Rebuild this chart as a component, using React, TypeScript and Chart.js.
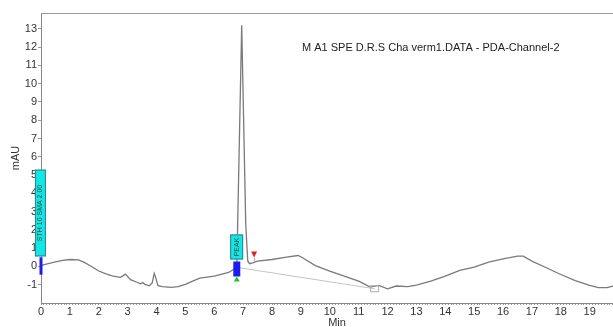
import React, { useEffect, useRef } from "react";
import { Chart, registerables } from "chart.js";

Chart.register(...registerables);

// Chromatogram trace (time in min, signal in mAU)
const times = [0, 0.25, 0.5, 0.75, 1.0, 1.3, 1.5, 1.75, 2.0, 2.25, 2.5, 2.75, 2.85, 2.92, 3.0, 3.1, 3.3, 3.45, 3.52, 3.6, 3.75, 3.85, 3.92, 3.97, 4.05, 4.2, 4.5, 4.75, 5.0, 5.25, 5.5, 6.0, 6.5, 6.78, 6.95, 7.09, 7.16, 7.22, 7.33, 7.5, 8.0, 8.5, 8.9, 9.0, 9.5, 10, 10.5, 11, 11.4, 11.7, 12.0, 12.3, 12.7, 13, 13.5, 14, 14.5, 15, 15.5, 16, 16.5, 16.7, 17, 17.5, 18, 18.5, 19, 19.3, 19.6, 20, 20.5];
const signal = [0.05, 0.15, 0.25, 0.33, 0.38, 0.36, 0.22, 0.0, -0.25, -0.4, -0.53, -0.6, -0.5, -0.42, -0.55, -0.72, -0.85, -0.95, -0.88, -0.98, -1.06, -0.9, -0.38, -0.6, -1.05, -1.1, -1.15, -1.1, -0.98, -0.8, -0.64, -0.53, -0.33, -0.05, 13.2, 2.3, 0.3, 0.15, 0.2, 0.29, 0.38, 0.51, 0.6, 0.53, 0.05, -0.25, -0.53, -0.8, -1.13, -1.04, -1.22, -1.07, -1.1, -1.02, -0.8, -0.53, -0.22, -0.04, 0.24, 0.42, 0.56, 0.56, 0.29, -0.07, -0.44, -0.77, -1.04, -1.16, -1.16, -1.0, -0.8];

// Integration baseline
const baselineTimes = [6.78, 11.55];
const baselineValues = [-0.05, -1.22];

// Event boxes: [tStart, tEnd, yLow, yHigh]
const eventBox1 = [-0.21, 0.17, 0.55, 5.3];
const eventBox1Text = "STH 10 SMA 2.00";
const eventBox2 = [6.55, 7.0, 0.38, 1.75];
const eventBox2Text = "PEAK";
// Peak markers
const startMarker1 = [0, -0.45, 0.5]; // t, yLow, yHigh
const startMarker2 = [6.78, -0.55, 0.27];
const greenMarker = [6.78, -0.82, -0.55];
const redMarker = [7.38, 0.49, 0.82, 0.27];
const baselineSquare = [11.55, -1.22];

const yTicks = [-1, 0, 1, 2, 3, 4, 5, 6, 7, 8, 9, 10, 11, 12, 13];
const titleText = "M A1 SPE D.R.S Cha verm1.DATA - PDA-Channel-2";

const annotations = {
  id: "annotations",
  afterDatasetsDraw(chart: any) {
    const { ctx, chartArea, scales } = chart;
    const x = scales.x, y = scales.y;
    ctx.save();
    // top frame line
    ctx.strokeStyle = "#9a9a9a";
    ctx.lineWidth = 1;
    ctx.beginPath();
    ctx.moveTo(chartArea.left, Math.round(chartArea.top) + 0.5);
    ctx.lineTo(chartArea.right, Math.round(chartArea.top) + 0.5);
    ctx.stroke();

    // baseline square
    const sx = x.getPixelForValue(baselineSquare[0]);
    const sy = y.getPixelForValue(baselineSquare[1]);
    ctx.strokeStyle = "#b0b0b0";
    ctx.strokeRect(sx - 4, sy - 3, 8, 6);

    const drawBox = (b: number[], text: string) => {
      const x0 = x.getPixelForValue(b[0]);
      const x1 = x.getPixelForValue(b[1]);
      const y0 = y.getPixelForValue(b[3]);
      const y1 = y.getPixelForValue(b[2]);
      ctx.fillStyle = "#10e8e8";
      ctx.fillRect(x0, y0, x1 - x0, y1 - y0);
      ctx.strokeStyle = "#3a7f7f";
      ctx.lineWidth = 1;
      ctx.strokeRect(x0 + 0.5, y0 + 0.5, x1 - x0 - 1, y1 - y0 - 1);
      ctx.save();
      ctx.translate((x0 + x1) / 2, (y0 + y1) / 2);
      ctx.rotate(-Math.PI / 2);
      ctx.fillStyle = "#2a4a4a";
      ctx.font = "7px 'Liberation Sans', Arial, sans-serif";
      ctx.textAlign = "center";
      ctx.textBaseline = "middle";
      ctx.fillText(text, 0, 0, (y1 - y0) - 4);
      ctx.restore();
    };
    drawBox(eventBox1, eventBox1Text);
    drawBox(eventBox2, eventBox2Text);

    // blue start markers
    ctx.fillStyle = "#1c1cf0";
    const m1x = x.getPixelForValue(startMarker1[0]);
    ctx.fillRect(m1x - 1.5, y.getPixelForValue(startMarker1[2]), 3, y.getPixelForValue(startMarker1[1]) - y.getPixelForValue(startMarker1[2]));
    const m2x = x.getPixelForValue(startMarker2[0]);
    ctx.fillRect(m2x - 3.5, y.getPixelForValue(startMarker2[2]), 7, y.getPixelForValue(startMarker2[1]) - y.getPixelForValue(startMarker2[2]));

    // green triangle (up)
    const gx = x.getPixelForValue(greenMarker[0]);
    const gTop = y.getPixelForValue(greenMarker[2]);
    const gBot = y.getPixelForValue(greenMarker[1]);
    ctx.fillStyle = "#19c819";
    ctx.beginPath();
    ctx.moveTo(gx, gTop);
    ctx.lineTo(gx - 3, gBot);
    ctx.lineTo(gx + 3, gBot);
    ctx.closePath();
    ctx.fill();

    // red triangle (down)
    const rx = x.getPixelForValue(redMarker[0]);
    const rTop = y.getPixelForValue(redMarker[2]);
    const rBot = y.getPixelForValue(redMarker[1]);
    const rEnd = y.getPixelForValue(redMarker[3]);
    ctx.strokeStyle = "#c0a0a0";
    ctx.beginPath();
    ctx.moveTo(rx + 0.5, rBot);
    ctx.lineTo(rx + 0.5, rEnd);
    ctx.stroke();
    ctx.fillStyle = "#e52020";
    ctx.beginPath();
    ctx.moveTo(rx - 3, rTop);
    ctx.lineTo(rx + 3, rTop);
    ctx.lineTo(rx, rBot);
    ctx.closePath();
    ctx.fill();

    // title
    ctx.fillStyle = "#222";
    ctx.font = "11px 'Liberation Sans', Arial, sans-serif";
    ctx.textAlign = "left";
    ctx.textBaseline = "middle";
    ctx.fillText(titleText, chartArea.left + 261, chartArea.top + 35);
    ctx.restore();
  },
};

export default function App() {
  const ref = useRef<HTMLCanvasElement | null>(null);
  useEffect(() => {
    if (!ref.current) return;
    const chart = new Chart(ref.current, {
      type: "line",
      data: {
        datasets: [
          {
            data: baselineTimes.map((t, i) => ({ x: t, y: baselineValues[i] })),
            borderColor: "#c4c4c4",
            borderWidth: 1,
            pointRadius: 0,
          },
          {
            data: times.map((t, i) => ({ x: t, y: signal[i] })),
            borderColor: "#7a7a7a",
            borderWidth: 1.3,
            pointRadius: 0,
            tension: 0,
          },
        ],
      },
      options: {
        responsive: false,
        animation: false,
        layout: { padding: { top: 13, right: 7, left: 0, bottom: 0 } },
        plugins: { legend: { display: false }, tooltip: { enabled: false } },
        scales: {
          x: {
            type: "linear",
            min: 0,
            max: 20.5,
            afterFit(scale: any) {
              scale.height = 24;
            },
            afterBuildTicks(scale: any) {
              const t: any[] = [];
              for (let i = 0; i <= 205; i++) t.push({ value: i / 10 });
              scale.ticks = t;
            },
            ticks: {
              autoSkip: false,
              maxRotation: 0,
              padding: 0,
              color: "#333",
              font: { family: "'Liberation Sans', Arial, sans-serif", size: 11 },
              callback: (v: any) => {
                const n = Number(v);
                return Math.abs(n - Math.round(n)) < 1e-6 ? String(Math.round(n)) : "";
              },
            },
            grid: { drawOnChartArea: false, tickLength: 2, color: "#999" },
            border: { display: true, color: "#888", width: 1 },
            title: {
              display: true,
              text: "Min",
              color: "#333",
              padding: { top: 0, bottom: -3 },
              font: { family: "'Liberation Sans', Arial, sans-serif", size: 11 },
            },
          },
          y: {
            type: "linear",
            min: -2,
            max: 13.87,
            afterFit(scale: any) {
              scale.width = 41;
            },
            afterBuildTicks(scale: any) {
              scale.ticks = yTicks.map((v) => ({ value: v }));
            },
            ticks: {
              padding: 1,
              color: "#333",
              font: { family: "'Liberation Sans', Arial, sans-serif", size: 11 },
            },
            grid: { drawOnChartArea: false, tickLength: 3, color: "#999" },
            border: { display: true, color: "#888", width: 1 },
            title: {
              display: true,
              text: "mAU",
              color: "#333",
              padding: { top: 9, bottom: 0 },
              font: { family: "'Liberation Sans', Arial, sans-serif", size: 11 },
            },
          },
        },
      },
      plugins: [annotations],
    });
    return () => chart.destroy();
  }, []);
  return (
    <div style={{ position: "fixed", left: 0, top: 0, width: 613, height: 327, overflow: "hidden", background: "#fff" }}>
      <canvas ref={ref} width={640} height={327} style={{ width: 640, height: 327, display: "block" }} />
    </div>
  );
}
